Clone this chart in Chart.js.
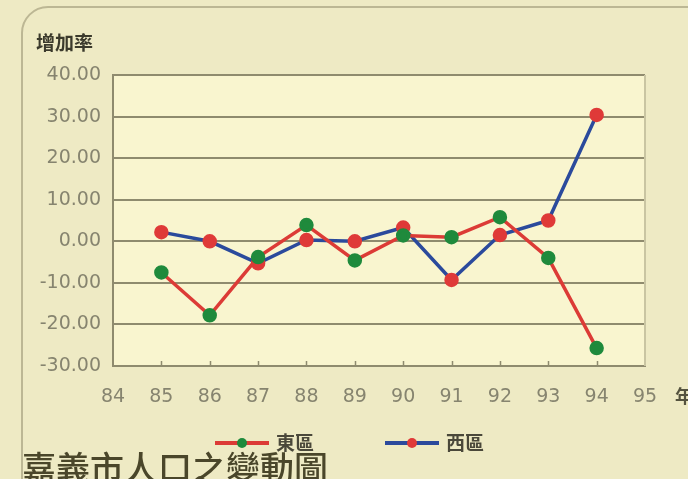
<!DOCTYPE html>
<html>
<head>
<meta charset="utf-8">
<script src="https://cdn.jsdelivr.net/npm/chart.js@4"></script>
<style>
    html, body { margin: 0; padding: 0; background: #eeeac4; }
    #wrap { width: 688px; height: 479px; position: relative; }
</style>
</head>
<body>
<div id="wrap"><canvas id="popChart" width="688" height="479"></canvas></div>
<script>
// Data (民國 year, growth rate)
const years = [85, 86, 87, 88, 89, 90, 91, 92, 93, 94];
const eastRates = [-7.5, -17.8, -3.8, 3.9, -4.6, 1.4, 1.0, 5.8, -4.0, -25.7];
const westRates = [2.2, 0.0, -5.3, 0.3, 0.0, 3.3, -9.3, 1.5, 5.0, 30.4];
const seriesNames = ['東區', '西區'];

const chartTitle = '嘉義市人口之變動圖';
const yAxisTitle = '增加率';
const xAxisTitle = '年';

const bgColor = '#eeeac4';
const plotColor = '#f9f5cf';
const gridColor = '#8f8b6e';
const tickColor = '#86846f';

const toPoints = (vals) => years.map((y, i) => ({ x: y, y: vals[i] }));

/* ===========================
   Frame, plot fill, labels and legend
   =========================== */
const framePlugin = {
    id: 'frame',
    beforeDraw(chart) {
        const { ctx, chartArea: a } = chart;
        ctx.save();
        ctx.fillStyle = bgColor;
        ctx.fillRect(0, 0, chart.width, chart.height);

        // rounded outer box
        const r = 26;
        ctx.strokeStyle = '#bcb794';
        ctx.lineWidth = 2;
        ctx.beginPath();
        ctx.moveTo(chart.width + 5, 7);
        ctx.lineTo(22 + r, 7);
        ctx.arcTo(22, 7, 22, 7 + r, r);
        ctx.lineTo(22, chart.height + 5);
        ctx.stroke();

        // plot area fill
        ctx.fillStyle = plotColor;
        ctx.fillRect(a.left, a.top, a.right - a.left, a.bottom - a.top);
        ctx.restore();
    },
    afterDatasetsDraw(chart) {
        const { ctx, chartArea: a } = chart;
        const xs = chart.scales.x;
        ctx.save();
        // light right border
        ctx.strokeStyle = '#c9c5a2';
        ctx.lineWidth = 2;
        ctx.beginPath();
        ctx.moveTo(a.right, a.top);
        ctx.lineTo(a.right, a.bottom);
        ctx.stroke();

        // small inner ticks on x axis
        ctx.strokeStyle = gridColor;
        ctx.lineWidth = 1.5;
        for (let v = 85; v <= 94; v++) {
            const px = Math.round(xs.getPixelForValue(v)) + 0.5;
            ctx.beginPath();
            ctx.moveTo(px, a.bottom);
            ctx.lineTo(px, a.bottom - 5);
            ctx.stroke();
        }
        ctx.restore();
    },
    afterDraw(chart) {
        const { ctx } = chart;
        ctx.save();

        // axis titles
        ctx.fillStyle = '#3b3a2c';
        ctx.font = 'bold 19px "Noto Sans CJK TC"';
        ctx.textBaseline = 'middle';
        ctx.textAlign = 'left';
        ctx.fillText(yAxisTitle, 36, 43);

        ctx.fillStyle = '#55533f';
        ctx.font = 'bold 18px "Noto Sans CJK TC"';
        ctx.fillText(xAxisTitle, 675, 396);

        // legend
        const items = [
            { x: 215, ds: chart.data.datasets[0] },
            { x: 385, ds: chart.data.datasets[1] }
        ];
        items.forEach(item => {
            const y = 443;
            ctx.strokeStyle = item.ds.borderColor;
            ctx.lineWidth = 4;
            ctx.beginPath();
            ctx.moveTo(item.x, y);
            ctx.lineTo(item.x + 54, y);
            ctx.stroke();
            ctx.fillStyle = item.ds.pointBackgroundColor;
            ctx.beginPath();
            ctx.arc(item.x + 27, y, 5, 0, Math.PI * 2);
            ctx.fill();
            ctx.fillStyle = '#4a483a';
            ctx.font = 'bold 19px "Noto Sans CJK TC"';
            ctx.textAlign = 'left';
            ctx.textBaseline = 'middle';
            ctx.fillText(item.ds.label, item.x + 61, y);
        });

        // chart title, bottom left (cut by the frame edge)
        ctx.fillStyle = '#4a462a';
        ctx.font = '500 34px "Noto Sans CJK TC"';
        ctx.textBaseline = 'alphabetic';
        ctx.textAlign = 'left';
        ctx.fillText(chartTitle, 22, 481);
        ctx.restore();
    }
};

const ctx = document.getElementById('popChart').getContext('2d');
const popChart = new Chart(ctx, {
    type: 'line',
    data: {
        datasets: [{
            label: seriesNames[0],
            data: toPoints(eastRates),
            borderColor: '#dc3b36',
            backgroundColor: '#dc3b36',
            pointBackgroundColor: '#1f8a3c',
            pointBorderColor: '#1f8a3c',
            borderWidth: 3.5,
            pointRadius: 5.5,
            tension: 0
        }, {
            label: seriesNames[1],
            data: toPoints(westRates),
            borderColor: '#2b4a9c',
            backgroundColor: '#2b4a9c',
            pointBackgroundColor: '#df3a38',
            pointBorderColor: '#df3a38',
            borderWidth: 3.5,
            pointRadius: 5.5,
            tension: 0
        }]
    },
    options: {
        responsive: false,
        animation: false,
        devicePixelRatio: 1,
        layout: { padding: { left: 0, top: 75, right: 43, bottom: 0 } },
        plugins: {
            legend: { display: false },
            tooltip: { enabled: false }
        },
        scales: {
            x: {
                type: 'linear',
                min: 84,
                max: 95,
                ticks: {
                    stepSize: 1,
                    padding: 20,
                    color: tickColor,
                    font: { family: '"DejaVu Sans"', size: 19 }
                },
                grid: { display: false, drawTicks: false },
                border: { display: true, color: gridColor, width: 2 },
                afterFit(scale) { scale.height = 113; }
            },
            y: {
                min: -30,
                max: 40,
                ticks: {
                    stepSize: 10,
                    padding: 12,
                    color: tickColor,
                    font: { family: '"DejaVu Sans"', size: 19 },
                    callback: (v) => v.toFixed(2)
                },
                grid: { color: gridColor, lineWidth: 2, drawTicks: false },
                border: { display: true, color: gridColor, width: 2 },
                afterFit(scale) { scale.width = 113; }
            }
        }
    },
    plugins: [framePlugin]
});
</script>
</body>
</html>
